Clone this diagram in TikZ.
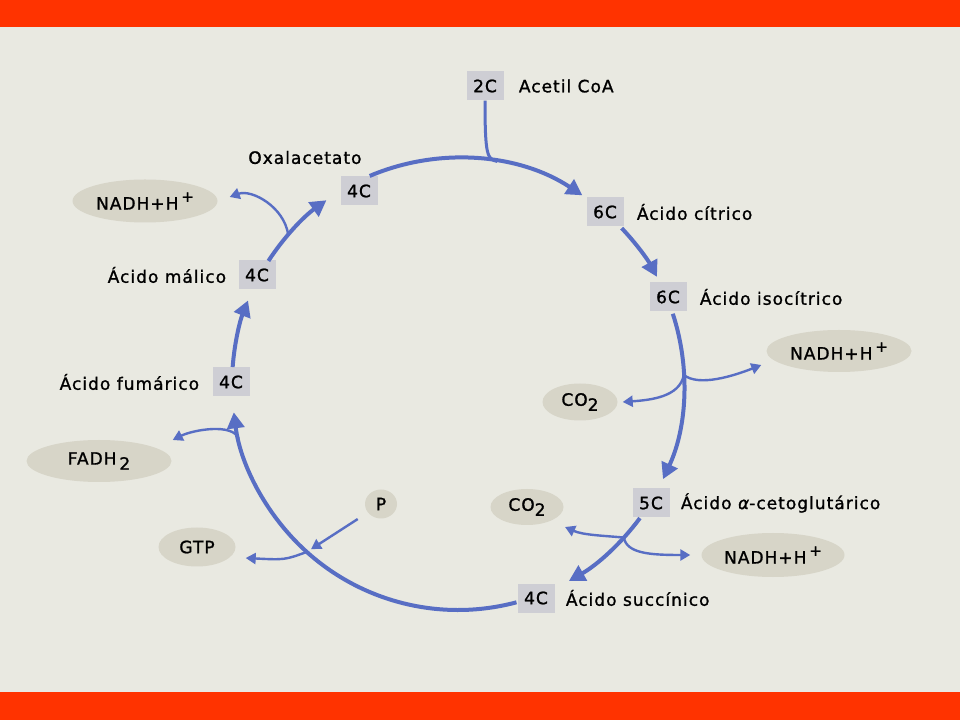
\documentclass[tikz,border=0pt]{standalone}
\usepackage{fontspec}
\setmainfont{DejaVu Sans}[LetterSpace=6, FakeBold=1.2]
\usetikzlibrary{positioning,calc,arrows.meta,shapes.geometric}
\definecolor{bandred}{RGB}{255,51,0}
\definecolor{paper}{RGB}{233,233,225}
\definecolor{ringblue}{RGB}{88,110,196}
\definecolor{blobfill}{RGB}{215,213,200}
\definecolor{boxfill}{RGB}{206,206,212}
\newcommand\Hplus{\,\raisebox{0.45em}{\fontsize{15}{15}\selectfont+}}
\newcommand\subtwo{\raisebox{-0.3em}{2}}
\tikzset{
node distance=13pt, % gap between a carbon box and its name
every node/.style={font=\fontsize{17}{20}\selectfont, text=black},
carbon/.style={fill=boxfill, minimum width=37pt, minimum height=29pt, inner sep=0pt}, % the grey nC boxes
tag/.style={inner sep=0pt}, % names of the acids
blob/.style={ellipse, fill=blobfill, inner sep=0pt}, % what the cycle gives off or takes in
ring/.style={ringblue, line width=4pt, -{Triangle[length=16pt,width=17pt]}}, % steps round the cycle
side/.style={ringblue, line width=2.4pt, -{Triangle[length=10pt,width=11pt]}}, % side branches
}
\begin{document}
\begin{tikzpicture}[x=1pt,y=1pt]
        \fill[paper] (0,0) rectangle (960,720);
        \fill[bandred] (0,693) rectangle (960,720);
        \fill[bandred] (0,0) rectangle (960,28);
        \useasboundingbox (0,0) rectangle (960,720);
        \coordinate (C) at (458,336);

        \node[carbon] (acoa) at (485,634) {2C};
        \node[carbon] (cit) at (605,508) {6C};
        \node[carbon] (iso) at (668,423) {6C};
        \node[carbon] (akg) at (651,217) {5C};
        \node[carbon] (suc) at (536,122) {4C};
        \node[carbon] (fum) at (231,338) {4C};
        \node[carbon] (mal) at (257,445) {4C};
        \node[carbon] (ox) at (359,529) {4C};

        \node[tag, right=15pt of acoa] (acoatxt) {Acetil CoA};
        \node[tag, right=of cit] (cittxt) {Ácido cítrico};
        \node[tag, right=of iso] (isotxt) {Ácido isocítrico};
        \node[tag, right=11pt of akg] (akgtxt) {Ácido {\itshape α}-cetoglutárico};
        \node[tag, right=11pt of suc] (suctxt) {Ácido succínico};
        \node[tag, left=of fum] (fumtxt) {Ácido fumárico};
        \node[tag, left=12pt of mal] (maltxt) {Ácido málico};
        \node[tag, above left=12pt and 16pt of ox.north east] (oxtxt) {Oxalacetato};

        \node[blob, minimum width=145pt, minimum height=43pt] (nadhA) at (145,519) {NADH+H\Hplus};
        \node[blob, minimum width=145pt, minimum height=42pt] (nadhB) at (839,369) {NADH+H\Hplus};
        \node[blob, minimum width=143pt, minimum height=44pt] (nadhC) at (773,165) {NADH+H\Hplus};
        \node[blob, minimum width=75pt, minimum height=37pt] (co2A) at (580,318) {CO\subtwo};
        \node[blob, minimum width=73pt, minimum height=36pt] (co2B) at (527,213) {CO\subtwo};
        \node[blob, minimum width=145pt, minimum height=42pt] (fadh) at (99,259) {FADH\,\subtwo};
        \node[blob, minimum width=77pt, minimum height=39pt] (gtp) at (197,173) {GTP};
        \node[blob, minimum width=32pt, minimum height=29pt] (pho) at (381,216) {P};

        \coordinate (j1) at ($(C)+(80:226)$);
        \coordinate (j2) at ($(C)+(2.3:226)$);
        \coordinate (j3) at ($(C)+(-42.8:226)$);
        \coordinate (j4) at ($(C)+(-166:226)$);
        \coordinate (j5) at ($(C)+(138.7:226)$);
        \coordinate (j6) at ($(C)+(-132:226)$);

        \draw[side, line width=3pt, -] (acoa.south) .. controls +(0,-55) and +(-10,2) .. (j1);
        \draw[side] (j2) .. controls +(15,-12) and +(-28,-11) .. ($(nadhB.west)+(-5,-14)$);
        \draw[side] (j2) .. controls +(-4,-22) and +(28,2) .. ($(co2A.east)+(5,0)$);
        \draw[side] (j3) .. controls +(-22,2) and +(18,-8) .. ($(co2B)+(38,-20)$);
        \draw[side] (j3) .. controls +(3,-16) and +(-40,0) .. ($(nadhC.west)+(-11,0)$);
        \draw[side] (j4) .. controls +(-6,16) and +(20,10) .. ($(fadh.east)+(1,21)$);
        \draw[side] (j5) .. controls +(-4,28) and +(22,8) .. ($(nadhA.east)+(12,4)$);
        \draw[side, shorten <=12pt, shorten >=5pt] (pho) -- (j6);
        \draw[side] (j6) .. controls +(-22,-8) .. ($(gtp.east)+(10,-11)$);

        \draw[ring] ($(C)+(113:226)$) arc[start angle=113, end angle=56.6, radius=226];
        \draw[ring] ($(C)+(43.6:226)$) arc[start angle=43.6, end angle=28.3, radius=226];
        \draw[ring] ($(C)+(18.1:226)$) arc[start angle=18.1, end angle=-24.9, radius=226];
        \draw[ring] ($(C)+(-36.4:226)$) arc[start angle=-36.4, end angle=-60.6, radius=226];
        \draw[ring] ($(C)+(-75:226)$) arc[start angle=-75, end angle=-172.8, radius=226];
        \draw[ring] ($(C)+(175.7:226)$) arc[start angle=175.7, end angle=158.3, radius=226];
        \draw[ring] ($(C)+(147:226)$) arc[start angle=147, end angle=125.6, radius=226];
\end{tikzpicture}
\end{document}
